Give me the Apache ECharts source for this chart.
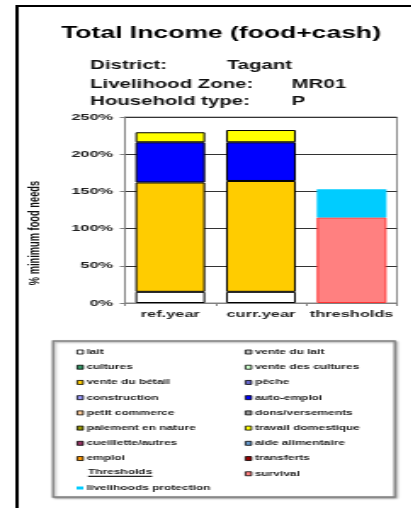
<!DOCTYPE html>
<html>
<head>
<meta charset="utf-8">
<script src="https://cdn.jsdelivr.net/npm/echarts@6/dist/echarts.min.js"></script>
<style>
    html, body { margin: 0; padding: 0; background: #fff; overflow: hidden; }
    /* the original picture is stretched sideways, so the chart is drawn narrow and scaled */
    #main { width: 242.35px; height: 508px; transform: scaleX(1.7); transform-origin: 0 0; }
</style>
</head>
<body>
<div id="main"></div>
<script>
    const categories = ['ref.year', 'curr.year', 'thresholds'];
    const yTicks = [0, 50, 100, 150, 200, 250];

    // % of minimum food needs, stacked from the bottom
    const lait = [15, 15, '-'];
    const venteBetail = [147, 149, '-'];
    const autoEmploi = [54, 52, '-'];
    const travailDomestique = [13.5, 16.5, '-'];
    const survival = ['-', '-', 115];
    const livelihoodsProtection = ['-', '-', 38];

    const legendLeft = ['lait', 'cultures', 'vente du bétail', 'construction', 'petit commerce',
        'paiement en nature', 'cueillette/autres', 'emploi'];
    const legendRight = ['vente du lait', 'vente des cultures', 'pêche', 'auto-emploi', 'dons/versements',
        'travail domestique', 'aide alimentaire', 'transferts', 'survival'];

    const values = {
        'lait': lait,
        'vente du bétail': venteBetail,
        'auto-emploi': autoEmploi,
        'travail domestique': travailDomestique,
        'survival': survival,
        'livelihoods protection': livelihoodsProtection
    };

    const colors = {
        'lait': '#ffffff', 'cultures': '#339966', 'vente du bétail': '#ffcc00', 'construction': '#9999ff',
        'petit commerce': '#ffcc99', 'paiement en nature': '#999900', 'cueillette/autres': '#993366',
        'emploi': '#ff9900', 'vente du lait': '#c0c0c0', 'vente des cultures': '#ccffcc', 'pêche': '#6666cc',
        'auto-emploi': '#0000ff', 'dons/versements': '#969696', 'travail domestique': '#ffff00',
        'aide alimentaire': '#6699cc', 'transferts': '#990000', 'survival': '#ff8080',
        'livelihoods protection': '#00ccff'
    };

    // stacking order, bottom to top
    const stackOrder = ['lait', 'cultures', 'vente du lait', 'vente des cultures', 'vente du bétail',
        'construction', 'petit commerce', 'paiement en nature', 'cueillette/autres', 'emploi', 'pêche',
        'auto-emploi', 'dons/versements', 'travail domestique', 'aide alimentaire', 'transferts',
        'survival', 'livelihoods protection'];

    const series = stackOrder.map(function (name) {
        let style = {color: colors[name], borderColor: '#000', borderWidth: 1};
        if (name === 'survival') style = {color: colors[name], borderColor: '#ff3333', borderWidth: 1};
        if (name === 'livelihoods protection') style = {color: colors[name], borderWidth: 0};
        return {
            name: name,
            type: 'bar',
            stack: 'total',
            barWidth: 41,
            data: values[name] || ['-', '-', '-'],
            itemStyle: style
        };
    });

    const FONT = '"Liberation Sans", Arial, sans-serif';
    const legendText = {fontFamily: FONT, fontSize: 7, fontWeight: 'bold', color: '#222', lineHeight: 10, padding: [0, 0, 0, -3]};

    let myChart = echarts.init(document.getElementById('main'));
    myChart.setOption({
        animation: false,
        grid: {
            left: 73.5, top: 117, width: 160, height: 186,
            show: true, borderColor: '#888', borderWidth: 1, backgroundColor: 'transparent'
        },
        xAxis: {
            type: 'category',
            data: categories,
            axisLine: {lineStyle: {color: '#808080', width: 1}},
            axisTick: {show: true, length: 3, lineStyle: {color: '#808080'}},
            axisLabel: {interval: 0, fontFamily: FONT, fontSize: 9.6, fontWeight: 'bold', color: '#222', margin: 6}
        },
        yAxis: {
            type: 'value',
            min: yTicks[0], max: yTicks[yTicks.length - 1], interval: 50,
            axisLine: {show: true, lineStyle: {color: '#808080', width: 1}},
            axisTick: {show: true, length: 3, lineStyle: {color: '#808080'}},
            axisLabel: {fontFamily: FONT, fontSize: 9.6, fontWeight: 'bold', color: '#222', margin: 7, formatter: '{value}%'},
            splitLine: {lineStyle: {color: '#333', width: 1}}
        },
        legend: [
            {
                data: legendLeft, orient: 'vertical', left: 40, top: 342,
                itemWidth: 3.5, itemHeight: 4, itemGap: 5.22, icon: 'rect',
                itemStyle: {borderColor: '#000', borderWidth: 0.8},
                textStyle: legendText, selectedMode: false
            },
            {
                data: ['livelihoods protection'], orient: 'vertical', left: 40, top: 478,
                itemWidth: 4, itemHeight: 3, icon: 'rect',
                itemStyle: {borderWidth: 0},
                textStyle: legendText, selectedMode: false
            },
            {
                data: legendRight, orient: 'vertical', left: 139, top: 342,
                itemWidth: 3.5, itemHeight: 4, itemGap: 5.22, icon: 'rect',
                itemStyle: {borderColor: '#000', borderWidth: 0.8},
                textStyle: legendText, selectedMode: false
            }
        ],
        graphic: [
            // frame round the page
            {type: 'polyline', z: 0, shape: {points: [[10, 530], [10, 6], [260, 6]]}, style: {stroke: '#000', lineWidth: 2, fill: null}},
            // legend box
            {
                type: 'rect', z: 0, shape: {x: 31.2, y: 341, width: 201, height: 156},
                style: {fill: '#fff', stroke: '#808080', lineWidth: 1.3, shadowBlur: 2, shadowOffsetX: 1, shadowOffsetY: 1, shadowColor: 'rgba(0,0,0,0.35)'}
            },
            {type: 'text', z: 5, x: 130, y: 34, style: {text: 'Total Income (food+cash)', font: 'bold 15.6px ' + FONT, fill: '#000', align: 'center', verticalAlign: 'middle', textAlign: 'center', textVerticalAlign: 'middle'}},
            {type: 'text', z: 5, x: 53, y: 65.5, style: {text: 'District:', font: 'bold 12px ' + FONT, fill: '#111', verticalAlign: 'middle', textVerticalAlign: 'middle'}},
            {type: 'text', z: 5, x: 133.4, y: 65.5, style: {text: 'Tagant', font: 'bold 12px ' + FONT, fill: '#111', verticalAlign: 'middle', textVerticalAlign: 'middle'}},
            {type: 'text', z: 5, x: 53, y: 85, style: {text: 'Livelihood Zone:', font: 'bold 12px ' + FONT, fill: '#111', verticalAlign: 'middle', textVerticalAlign: 'middle'}},
            {type: 'text', z: 5, x: 171.6, y: 85, style: {text: 'MR01', font: 'bold 12px ' + FONT, fill: '#111', verticalAlign: 'middle', textVerticalAlign: 'middle'}},
            {type: 'text', z: 5, x: 53, y: 102, style: {text: 'Household type:', font: 'bold 12px ' + FONT, fill: '#111', verticalAlign: 'middle', textVerticalAlign: 'middle'}},
            {type: 'text', z: 5, x: 171.6, y: 102, style: {text: 'P', font: 'bold 12px ' + FONT, fill: '#111', verticalAlign: 'middle', textVerticalAlign: 'middle'}},
            // y axis title
            {type: 'text', z: 5, x: 20, y: 233, rotation: Math.PI / 2, style: {text: '% minimum food needs', font: 'bold 9.3px ' + FONT, fill: '#111', align: 'center', verticalAlign: 'middle', textAlign: 'center', textVerticalAlign: 'middle'}},
            // thresholds heading in the legend
            {type: 'text', z: 5, x: 51.8, y: 472, style: {text: 'Thresholds', font: 'bold 7px ' + FONT, fill: '#222', verticalAlign: 'middle', textVerticalAlign: 'middle'}},
            // its underline
            {type: 'rect', z: 50, x: 51.8, y: 475.8, shape: {x: 0, y: 0, width: 37.7, height: 1.2}, style: {fill: '#222'}}
        ],
        series: series
    });
</script>
</body>
</html>
